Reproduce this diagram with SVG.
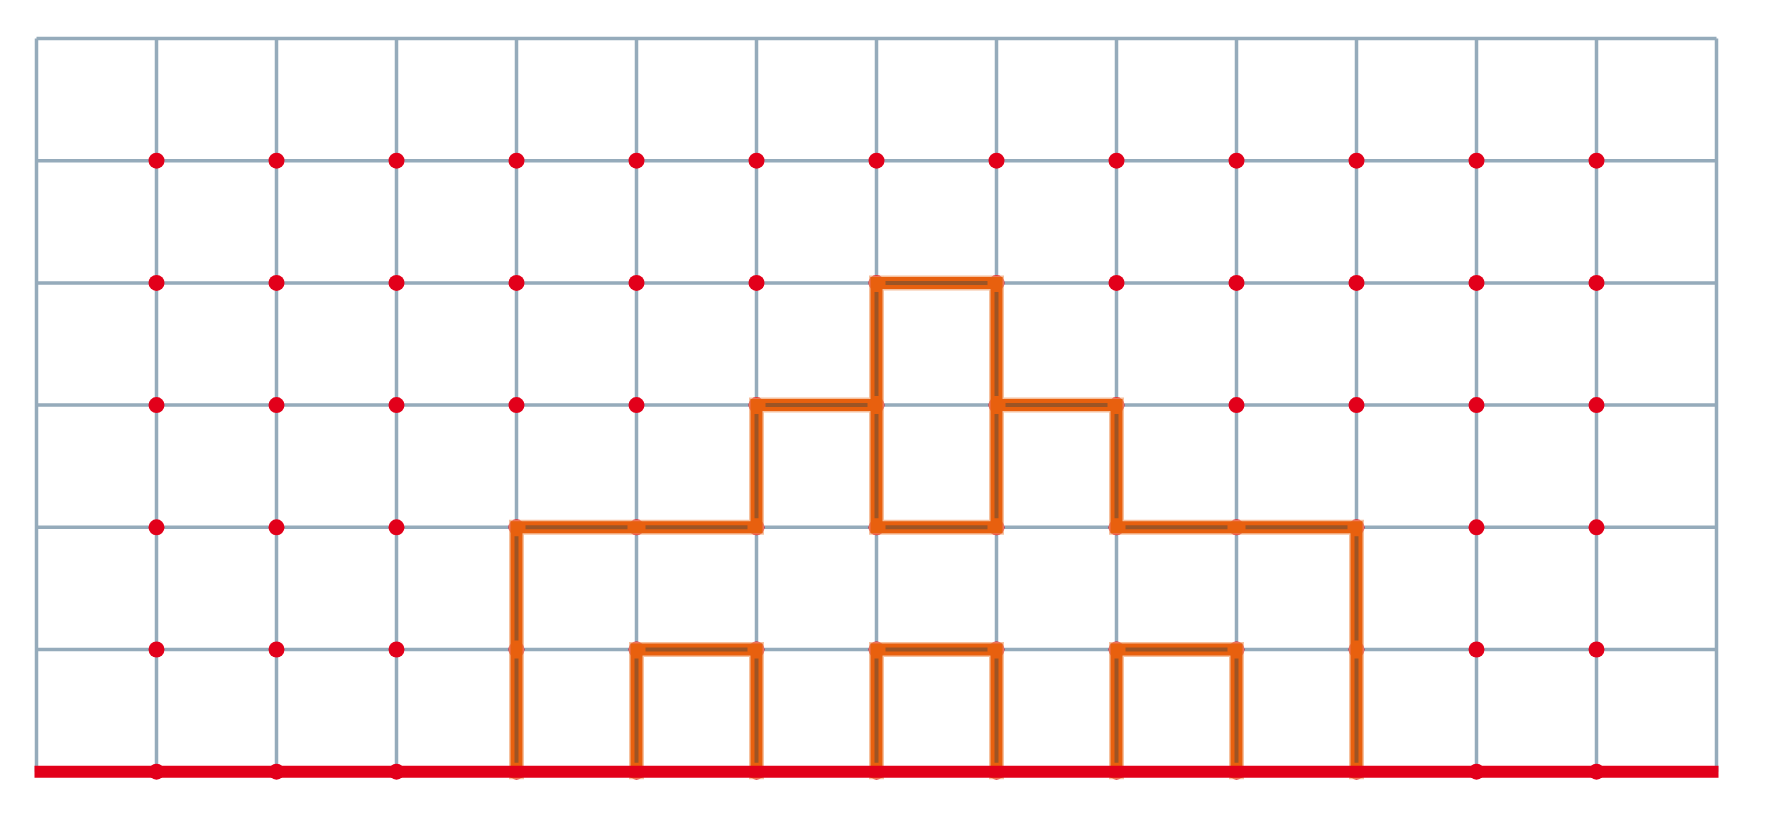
<svg xmlns="http://www.w3.org/2000/svg" width="1774" height="813" viewBox="0 0 1774 813">
<style>
.g{stroke:#95abbb;stroke-width:3.5;fill:none}
.d{fill:#e2001a}
.h{stroke:#f2a676;stroke-width:15;stroke-linecap:square;fill:none;opacity:0.7}
.o{stroke:#e8600e;stroke-width:12;stroke-linecap:square;fill:none}
.i{stroke:#9c5425;stroke-width:4;fill:none}
.b{stroke:#e2001a;stroke-width:12;fill:none}
</style>
<rect width="1774" height="813" fill="#fff"/>
<g id="grid">
<path class="g" d="M36.5 38.5V771.7M156.5 38.5V771.7M276.5 38.5V771.7M396.5 38.5V771.7M516.5 38.5V771.7M636.5 38.5V771.7M756.5 38.5V771.7M876.5 38.5V771.7M996.5 38.5V771.7M1116.5 38.5V771.7M1236.5 38.5V771.7M1356.5 38.5V771.7M1476.5 38.5V771.7M1596.5 38.5V771.7M1716.5 38.5V771.7"/>
<path class="g" d="M36.5 38.5H1716.5M36.5 160.7H1716.5M36.5 282.9H1716.5M36.5 405.1H1716.5M36.5 527.3H1716.5M36.5 649.5H1716.5"/>
</g>
<g id="nodes">
<g id="row1"><circle class="d" cx="156.5" cy="160.7" r="8"/><circle class="d" cx="276.5" cy="160.7" r="8"/><circle class="d" cx="396.5" cy="160.7" r="8"/><circle class="d" cx="516.5" cy="160.7" r="8"/><circle class="d" cx="636.5" cy="160.7" r="8"/><circle class="d" cx="756.5" cy="160.7" r="8"/><circle class="d" cx="876.5" cy="160.7" r="8"/><circle class="d" cx="996.5" cy="160.7" r="8"/><circle class="d" cx="1116.5" cy="160.7" r="8"/><circle class="d" cx="1236.5" cy="160.7" r="8"/><circle class="d" cx="1356.5" cy="160.7" r="8"/><circle class="d" cx="1476.5" cy="160.7" r="8"/><circle class="d" cx="1596.5" cy="160.7" r="8"/></g>
<g id="row2"><circle class="d" cx="156.5" cy="282.9" r="8"/><circle class="d" cx="276.5" cy="282.9" r="8"/><circle class="d" cx="396.5" cy="282.9" r="8"/><circle class="d" cx="516.5" cy="282.9" r="8"/><circle class="d" cx="636.5" cy="282.9" r="8"/><circle class="d" cx="756.5" cy="282.9" r="8"/><circle class="d" cx="876.5" cy="282.9" r="8"/><circle class="d" cx="996.5" cy="282.9" r="8"/><circle class="d" cx="1116.5" cy="282.9" r="8"/><circle class="d" cx="1236.5" cy="282.9" r="8"/><circle class="d" cx="1356.5" cy="282.9" r="8"/><circle class="d" cx="1476.5" cy="282.9" r="8"/><circle class="d" cx="1596.5" cy="282.9" r="8"/></g>
<g id="row3"><circle class="d" cx="156.5" cy="405.1" r="8"/><circle class="d" cx="276.5" cy="405.1" r="8"/><circle class="d" cx="396.5" cy="405.1" r="8"/><circle class="d" cx="516.5" cy="405.1" r="8"/><circle class="d" cx="636.5" cy="405.1" r="8"/><circle class="d" cx="756.5" cy="405.1" r="8"/><circle class="d" cx="876.5" cy="405.1" r="8"/><circle class="d" cx="996.5" cy="405.1" r="8"/><circle class="d" cx="1116.5" cy="405.1" r="8"/><circle class="d" cx="1236.5" cy="405.1" r="8"/><circle class="d" cx="1356.5" cy="405.1" r="8"/><circle class="d" cx="1476.5" cy="405.1" r="8"/><circle class="d" cx="1596.5" cy="405.1" r="8"/></g>
<g id="row4"><circle class="d" cx="156.5" cy="527.3" r="8"/><circle class="d" cx="276.5" cy="527.3" r="8"/><circle class="d" cx="396.5" cy="527.3" r="8"/><circle class="d" cx="516.5" cy="527.3" r="8"/><circle class="d" cx="636.5" cy="527.3" r="8"/><circle class="d" cx="756.5" cy="527.3" r="8"/><circle class="d" cx="876.5" cy="527.3" r="8"/><circle class="d" cx="996.5" cy="527.3" r="8"/><circle class="d" cx="1116.5" cy="527.3" r="8"/><circle class="d" cx="1236.5" cy="527.3" r="8"/><circle class="d" cx="1356.5" cy="527.3" r="8"/><circle class="d" cx="1476.5" cy="527.3" r="8"/><circle class="d" cx="1596.5" cy="527.3" r="8"/></g>
<g id="row5"><circle class="d" cx="156.5" cy="649.5" r="8"/><circle class="d" cx="276.5" cy="649.5" r="8"/><circle class="d" cx="396.5" cy="649.5" r="8"/><circle class="d" cx="516.5" cy="649.5" r="8"/><circle class="d" cx="636.5" cy="649.5" r="8"/><circle class="d" cx="756.5" cy="649.5" r="8"/><circle class="d" cx="876.5" cy="649.5" r="8"/><circle class="d" cx="996.5" cy="649.5" r="8"/><circle class="d" cx="1116.5" cy="649.5" r="8"/><circle class="d" cx="1236.5" cy="649.5" r="8"/><circle class="d" cx="1356.5" cy="649.5" r="8"/><circle class="d" cx="1476.5" cy="649.5" r="8"/><circle class="d" cx="1596.5" cy="649.5" r="8"/></g>
<g id="row6"><circle class="d" cx="156.5" cy="771.7" r="8"/><circle class="d" cx="276.5" cy="771.7" r="8"/><circle class="d" cx="396.5" cy="771.7" r="8"/><circle class="d" cx="516.5" cy="771.7" r="8"/><circle class="d" cx="636.5" cy="771.7" r="8"/><circle class="d" cx="756.5" cy="771.7" r="8"/><circle class="d" cx="876.5" cy="771.7" r="8"/><circle class="d" cx="996.5" cy="771.7" r="8"/><circle class="d" cx="1116.5" cy="771.7" r="8"/><circle class="d" cx="1236.5" cy="771.7" r="8"/><circle class="d" cx="1356.5" cy="771.7" r="8"/><circle class="d" cx="1476.5" cy="771.7" r="8"/><circle class="d" cx="1596.5" cy="771.7" r="8"/></g>
</g>
<defs>
<path id="route" d="M516.5 527.3V649.5M516.5 649.5V771.7M516.5 527.3H636.5M636.5 527.3H756.5M756.5 527.3V405.1M756.5 405.1H876.5M876.5 405.1V282.9M876.5 405.1V527.3M876.5 282.9H996.5M996.5 282.9V405.1M996.5 405.1V527.3M876.5 527.3H996.5M996.5 405.1H1116.5M1116.5 405.1V527.3M1116.5 527.3H1236.5M1236.5 527.3H1356.5M1356.5 527.3V649.5M1356.5 649.5V771.7M636.5 649.5V771.7M636.5 649.5H756.5M756.5 649.5V771.7M876.5 649.5V771.7M876.5 649.5H996.5M996.5 649.5V771.7M1116.5 649.5V771.7M1116.5 649.5H1236.5M1236.5 649.5V771.7"/>
</defs>
<g id="connectors">
<use href="#route" class="h"/>
<use href="#route" class="o"/>
<path class="i" d="M516.5 536.3V640.5M516.5 658.5V762.7M525.5 527.3H627.5M645.5 527.3H747.5M756.5 414.1V518.3M765.5 405.1H867.5M876.5 291.9V396.1M876.5 414.1V518.3M885.5 282.9H987.5M996.5 291.9V396.1M996.5 414.1V518.3M885.5 527.3H987.5M1005.5 405.1H1107.5M1116.5 414.1V518.3M1125.5 527.3H1227.5M1245.5 527.3H1347.5M1356.5 536.3V640.5M1356.5 658.5V762.7M636.5 658.5V762.7M645.5 649.5H747.5M756.5 658.5V762.7M876.5 658.5V762.7M885.5 649.5H987.5M996.5 658.5V762.7M1116.5 658.5V762.7M1125.5 649.5H1227.5M1236.5 658.5V762.7"/>
</g>
<g id="base">
<line class="b" x1="34.5" y1="771.7" x2="1718.5" y2="771.7"/>
</g>
</svg>
